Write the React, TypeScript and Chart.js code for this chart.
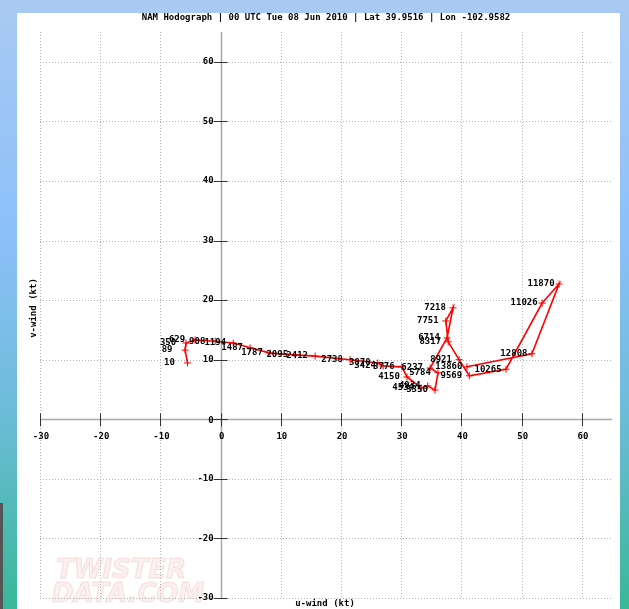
import React, { useEffect, useRef } from "react";
import { Chart, registerables } from "chart.js";

Chart.register(...registerables);

const TITLE = "NAM Hodograph | 00 UTC Tue 08 Jun 2010 | Lat 39.9516 | Lon -102.9582";
const X_TITLE = "u-wind (kt)";
const Y_TITLE = "v-wind (kt)";

const heights = ["10", "89", "350", "629", "908", "1194", "1487", "1787", "2095", "2412", "2738", "3070", "3424", "3776", "4150", "4534", "4934", "5350", "5784", "6237", "6714", "7218", "7751", "8317", "8921", "9569", "10265", "11026", "11870", "12808", "13860"];
const uWind = [-5.5, -5.9, -5.75, -4.25, -0.9, 2.1, 4.9, 8.2, 12.4, 15.7, 21.5, 26.1, 27.0, 30.1, 30.95, 33.3, 34.4, 35.6, 36.1, 34.8, 37.6, 38.6, 37.4, 37.8, 39.6, 41.3, 47.4, 53.4, 56.2, 51.7, 40.9];
const vWind = [9.45, 11.6, 12.8, 13.3, 13.1, 12.8, 12.0, 11.1, 10.8, 10.6, 10.0, 9.45, 8.95, 8.8, 7.1, 5.25, 5.6, 4.9, 7.8, 8.6, 13.65, 18.7, 16.5, 13.0, 10.0, 7.3, 8.4, 19.5, 22.7, 11.0, 8.8];

const xTicks = [-30, -20, -10, 0, 10, 20, 30, 40, 50, 60];
const yTicks = [-30, -20, -10, 0, 10, 20, 30, 40, 50, 60];
const AXIS_MIN = -30;
const AXIS_MAX = 65;

const FONT = "bold 9px 'DejaVu Sans Mono', monospace";

const hodoPlugin = {
  id: "hodo",
  beforeDatasetsDraw(chart: any) {
    const { ctx, chartArea, scales } = chart;
    const xs = scales.x;
    const ys = scales.y;
    const x0 = xs.getPixelForValue(0);
    const y0 = ys.getPixelForValue(0);

    // watermark
    ctx.save();
    ctx.font = "italic bold 26px 'DejaVu Sans', sans-serif";
    ctx.strokeStyle = "rgba(225,140,140,0.25)";
    ctx.fillStyle = "rgba(245,210,210,0.3)";
    ctx.lineWidth = 1;
    ctx.textAlign = "left";
    ctx.textBaseline = "alphabetic";
    ctx.fillText("TWISTER", 56, 578);
    ctx.strokeText("TWISTER", 56, 578);
    ctx.fillText("DATA.COM", 52, 602);
    ctx.strokeText("DATA.COM", 52, 602);
    ctx.restore();

    ctx.save();
    // dotted grid
    ctx.strokeStyle = "#b4b4b4";
    ctx.lineWidth = 1;
    ctx.setLineDash([1, 2]);
    xTicks.forEach((t) => {
      if (t === 0) return;
      const px = Math.round(xs.getPixelForValue(t)) + 0.5;
      ctx.beginPath();
      ctx.moveTo(px, chartArea.top);
      ctx.lineTo(px, chartArea.bottom);
      ctx.stroke();
    });
    yTicks.forEach((t) => {
      if (t === 0) return;
      const py = Math.round(ys.getPixelForValue(t)) + 0.5;
      ctx.beginPath();
      ctx.moveTo(chartArea.left, py);
      ctx.lineTo(chartArea.right, py);
      ctx.stroke();
    });
    ctx.setLineDash([]);
    // axis lines
    ctx.strokeStyle = "#a8a8a8";
    ctx.lineWidth = 1.5;
    ctx.beginPath();
    ctx.moveTo(chartArea.left, Math.round(y0) + 0.5);
    ctx.lineTo(chartArea.right, Math.round(y0) + 0.5);
    ctx.moveTo(Math.round(x0) + 0.5, chartArea.top);
    ctx.lineTo(Math.round(x0) + 0.5, chartArea.bottom);
    ctx.stroke();
    // tick marks
    ctx.strokeStyle = "#333";
    ctx.lineWidth = 1;
    xTicks.forEach((t) => {
      const px = Math.round(xs.getPixelForValue(t)) + 0.5;
      ctx.beginPath();
      ctx.moveTo(px, y0 - 6);
      ctx.lineTo(px, y0 + 7);
      ctx.stroke();
    });
    yTicks.forEach((t) => {
      const py = Math.round(ys.getPixelForValue(t)) + 0.5;
      ctx.beginPath();
      ctx.moveTo(x0 - 7, py);
      ctx.lineTo(x0 + 7, py);
      ctx.stroke();
    });
    // tick labels
    ctx.fillStyle = "#000";
    ctx.font = FONT;
    ctx.textAlign = "center";
    ctx.textBaseline = "middle";
    xTicks.forEach((t) => {
      ctx.fillText(String(t), xs.getPixelForValue(t) + 1, y0 + 17);
    });
    ctx.textAlign = "right";
    yTicks.forEach((t) => {
      ctx.fillText(String(t), x0 - 7, ys.getPixelForValue(t) + (t === 0 ? 1 : 0));
    });
    // titles
    ctx.textAlign = "center";
    ctx.fillText(TITLE, 326, 18);
    ctx.fillText(X_TITLE, 325, 604);
    ctx.translate(34, 308);
    ctx.rotate(-Math.PI / 2);
    ctx.fillText(Y_TITLE, 0, 0);
    ctx.restore();
  },
  afterDatasetsDraw(chart: any) {
    const { ctx } = chart;
    const meta = chart.getDatasetMeta(0);
    ctx.save();
    ctx.font = FONT;
    ctx.fillStyle = "#000";
    ctx.textAlign = "center";
    ctx.textBaseline = "middle";
    meta.data.forEach((pt: any, i: number) => {
      ctx.fillText(heights[i], pt.x - 18, pt.y);
    });
    ctx.restore();
  },
};

export default function App() {
  const ref = useRef<HTMLCanvasElement | null>(null);
  useEffect(() => {
    document.body.style.margin = "0";
    if (!ref.current) return;
    const chart = new Chart(ref.current, {
      type: "scatter",
      data: {
        datasets: [
          {
            data: uWind.map((u, i) => ({ x: u, y: vWind[i] })),
            showLine: true,
            borderColor: "#ff0000",
            backgroundColor: "#ff0000",
            borderWidth: 1.6,
            pointStyle: "cross",
            pointRadius: 3.5,
            pointBorderWidth: 1,
            pointBorderColor: "#ff0000",
            tension: 0,
          },
        ],
      },
      options: {
        responsive: false,
        animation: false,
        events: [],
        layout: { padding: { left: 40, top: 32, right: 17, bottom: 11 } },
        plugins: { legend: { display: false }, tooltip: { enabled: false }, title: { display: false } },
        scales: {
          x: { type: "linear", min: AXIS_MIN, max: AXIS_MAX, display: false },
          y: { type: "linear", min: AXIS_MIN, max: AXIS_MAX, display: false },
        },
      },
      plugins: [hodoPlugin],
    });
    return () => chart.destroy();
  }, []);

  return (
    <div
      style={{
        position: "fixed",
        left: 0,
        top: 0,
        width: 629,
        height: 609,
        overflow: "hidden",
        background: "linear-gradient(to bottom, #a9caf2 0%, #8cc0fa 38%, #6cbcd8 68%, #38b898 100%)",
      }}
    >
      <div style={{ position: "absolute", left: 17, top: 13, width: 603, height: 596, background: "#fff" }} />
      <div style={{ position: "absolute", left: 0, top: 503, width: 3, height: 106, background: "#555" }} />
      <canvas ref={ref} width={629} height={609} style={{ position: "absolute", left: 0, top: 0, width: 629, height: 609 }} />
    </div>
  );
}
